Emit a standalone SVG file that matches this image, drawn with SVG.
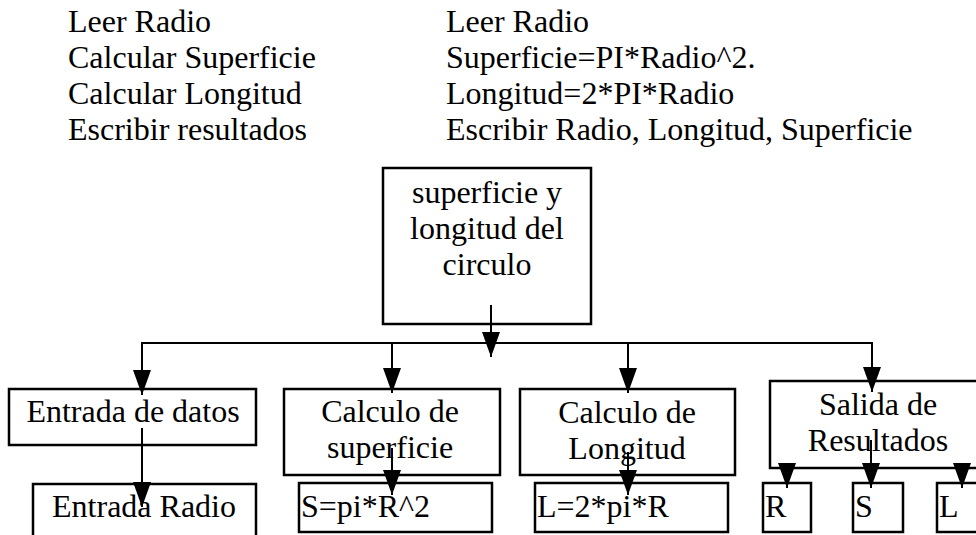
<svg xmlns="http://www.w3.org/2000/svg" width="976" height="535" viewBox="0 0 976 535">
<style>
  text { font-family: "Liberation Serif", "Times New Roman", serif; font-size: 32px; fill: #000; }
  .c { text-anchor: middle; }
  .box { fill: #fff; stroke: #000; stroke-width: 2.5; }
  .con { fill: none; stroke: #000; stroke-width: 2; }
</style>
<defs>
  <marker id="ah" viewBox="0 0 25 18" refX="25" refY="9" markerWidth="25" markerHeight="18" markerUnits="userSpaceOnUse" orient="auto">
    <path d="M0,0 L25,9 L0,18 Z" fill="#000"/>
  </marker>
</defs>
<rect width="976" height="535" fill="#fff"/>
<g id="list">
  <text x="68" y="32">Leer Radio</text>
  <text x="68" y="68">Calcular Superficie</text>
  <text x="68" y="104">Calcular Longitud</text>
  <text x="68" y="140">Escribir resultados</text>
  <text x="446" y="32">Leer Radio</text>
  <text x="446" y="68">Superficie=PI*Radio^2.</text>
  <text x="446" y="104">Longitud=2*PI*Radio</text>
  <text x="446" y="140">Escribir Radio, Longitud, Superficie</text>
</g>
<g id="n-root">
  <rect class="box" x="383" y="168" width="208" height="156"/>
  <text class="c" x="487" y="203">superficie y</text>
  <text class="c" x="487" y="239">longitud del</text>
  <text class="c" x="487" y="275">circulo</text>
</g>
<g id="n-entrada-datos">
  <rect class="box" x="9" y="389" width="247" height="56"/>
  <text class="c" x="133" y="422">Entrada de datos</text>
</g>
<g id="n-calc-sup">
  <rect class="box" x="284" y="389" width="216" height="86"/>
  <text class="c" x="390" y="422">Calculo de</text>
  <text class="c" x="390" y="458">superficie</text>
</g>
<g id="n-calc-lon">
  <rect class="box" x="520" y="389" width="215" height="86"/>
  <text class="c" x="627" y="423">Calculo de</text>
  <text class="c" x="627" y="459">Longitud</text>
</g>
<g id="n-salida">
  <rect class="box" x="770" y="381" width="216" height="87"/>
  <text class="c" x="878" y="415">Salida de</text>
  <text class="c" x="878" y="451">Resultados</text>
</g>
<g id="n-entrada-radio">
  <rect class="box" x="33" y="484" width="223" height="60"/>
  <text class="c" x="144" y="517">Entrada Radio</text>
</g>
<g id="n-s-formula">
  <rect class="box" x="299" y="483" width="193" height="49"/>
  <text x="301" y="517">S=pi*R^2</text>
</g>
<g id="n-l-formula">
  <rect class="box" x="535" y="483" width="193" height="49"/>
  <text x="537" y="517">L=2*pi*R</text>
</g>
<g id="n-r">
  <rect class="box" x="763" y="483" width="48" height="49"/>
  <text x="765" y="517">R</text>
</g>
<g id="n-s">
  <rect class="box" x="853" y="483" width="50" height="49"/>
  <text x="855" y="517">S</text>
</g>
<g id="n-l">
  <rect class="box" x="937" y="483" width="50" height="49"/>
  <text x="939" y="517">L</text>
</g>
<g id="connectors">
  <path class="con" d="M491,305 V357" marker-end="url(#ah)"/>
  <path class="con" d="M142,343 H872"/>
  <path class="con" d="M142,342 V395" marker-end="url(#ah)"/>
  <path class="con" d="M392,343 V393" marker-end="url(#ah)"/>
  <path class="con" d="M628,343 V393" marker-end="url(#ah)"/>
  <path class="con" d="M872,342 V392" marker-end="url(#ah)"/>
  <path class="con" d="M142,428 V507" marker-end="url(#ah)"/>
  <path class="con" d="M392,448 V495" marker-end="url(#ah)"/>
  <path class="con" d="M628,452 V495" marker-end="url(#ah)"/>
  <path class="con" d="M787,468 V488" marker-end="url(#ah)"/>
  <path class="con" d="M871,440 V488" marker-end="url(#ah)"/>
  <path class="con" d="M962,468 V488" marker-end="url(#ah)"/>
</g>
</svg>
